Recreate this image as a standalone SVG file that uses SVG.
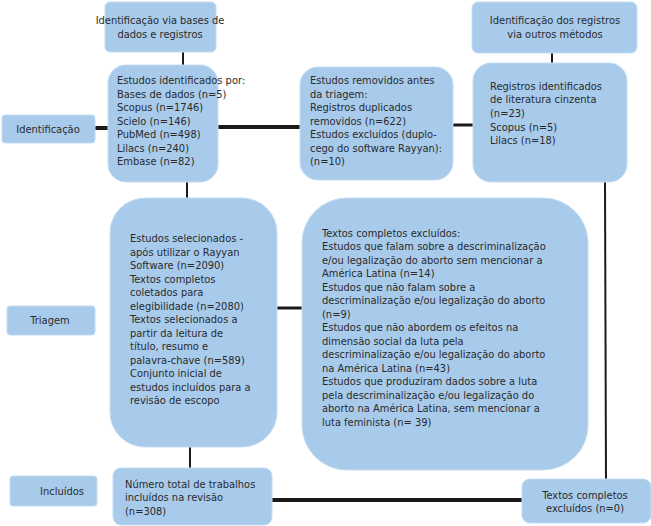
<svg xmlns="http://www.w3.org/2000/svg" width="651" height="526" viewBox="0 0 651 526">
<style>
.b{fill:#a8cbec;stroke:#c4dcf2;stroke-width:1}
.t{font-family:"Liberation Sans Narrow","DejaVu Sans Condensed","Liberation Sans",sans-serif;font-size:11px;fill:#2a2a2a}
.c{stroke:#1a1a1a;fill:none}
</style>
<rect width="651" height="526" fill="#fff"/>
<g id="connectors">
<line class="c" x1="183" y1="52" x2="183" y2="65" stroke-width="2"/>
<line class="c" x1="552" y1="53" x2="552" y2="63" stroke-width="2"/>
<line class="c" x1="95" y1="128" x2="108" y2="128" stroke-width="4"/>
<line class="c" x1="218" y1="127" x2="300" y2="127" stroke-width="4"/>
<line class="c" x1="453" y1="125" x2="473" y2="125" stroke-width="3"/>
<line class="c" x1="187" y1="182" x2="187" y2="198" stroke-width="2"/>
<line class="c" x1="605" y1="182" x2="606" y2="480" stroke-width="2"/>
<line class="c" x1="277" y1="308" x2="302" y2="308" stroke-width="3"/>
<line class="c" x1="190" y1="447" x2="190" y2="468" stroke-width="2"/>
<line class="c" x1="272" y1="500" x2="523" y2="500" stroke-width="4"/>
</g>
<g id="h1"><rect class="b" x="105" y="2" width="111" height="50" rx="5"/>
<text class="t" text-anchor="middle"><tspan x="160" y="24">Identificação via bases de</tspan><tspan x="160" y="38">dados e registros</tspan></text></g>
<g id="h2"><rect class="b" x="472" y="2" width="165" height="51" rx="6"/>
<text class="t" text-anchor="middle"><tspan x="555" y="24">Identificação dos registros</tspan><tspan x="555" y="38">via outros métodos</tspan></text></g>
<g id="l1"><rect class="b" x="2" y="115" width="93" height="28" rx="3"/>
<text class="t" x="48" y="133" text-anchor="middle">Identificação</text></g>
<g id="n1"><rect class="b" x="108" y="65" width="110" height="117" rx="18"/>
<text class="t"><tspan x="117" y="84">Estudos identificados por:</tspan><tspan x="117" y="98">Bases de dados (n=5)</tspan><tspan x="117" y="111">Scopus (n=1746)</tspan><tspan x="117" y="125">Scielo (n=146)</tspan><tspan x="117" y="138">PubMed (n=498)</tspan><tspan x="117" y="152">Lilacs (n=240)</tspan><tspan x="117" y="165">Embase (n=82)</tspan></text></g>
<g id="n2"><rect class="b" x="300" y="67" width="153" height="113" rx="18"/>
<text class="t"><tspan x="310" y="84">Estudos removidos antes</tspan><tspan x="310" y="98">da triagem:</tspan><tspan x="310" y="111">Registros duplicados</tspan><tspan x="310" y="125">removidos (n=622)</tspan><tspan x="310" y="138">Estudos excluídos (duplo-</tspan><tspan x="310" y="152">cego do software Rayyan):</tspan><tspan x="310" y="165">(n=10)</tspan></text></g>
<g id="n3"><rect class="b" x="473" y="63" width="154" height="119" rx="18"/>
<text class="t"><tspan x="490" y="90">Registros identificados</tspan><tspan x="490" y="103">de literatura cinzenta</tspan><tspan x="490" y="117">(n=23)</tspan><tspan x="490" y="131">Scopus (n=5)</tspan><tspan x="490" y="144">Lilacs (n=18)</tspan></text></g>
<g id="l2"><rect class="b" x="7" y="306" width="88" height="29" rx="3"/>
<text class="t" x="50" y="324" text-anchor="middle">Triagem</text></g>
<g id="n4"><rect class="b" x="110" y="198" width="167" height="249" rx="35"/>
<text class="t"><tspan x="130" y="242">Estudos selecionados -</tspan><tspan x="130" y="256">após utilizar o Rayyan</tspan><tspan x="130" y="269">Software (n=2090)</tspan><tspan x="130" y="283">Textos completos</tspan><tspan x="130" y="296">coletados para</tspan><tspan x="130" y="310">elegibilidade (n=2080)</tspan><tspan x="130" y="323">Textos selecionados a</tspan><tspan x="130" y="337">partir da leitura de</tspan><tspan x="130" y="350">título, resumo e</tspan><tspan x="130" y="364">palavra-chave (n=589)</tspan><tspan x="130" y="377">Conjunto inicial de</tspan><tspan x="130" y="391">estudos incluídos para a</tspan><tspan x="130" y="404">revisão de escopo</tspan></text></g>
<g id="n5"><rect class="b" x="302" y="198" width="286" height="272" rx="45"/>
<text class="t"><tspan x="322" y="237">Textos completos excluídos:</tspan><tspan x="322" y="250">Estudos que falam sobre a descriminalização</tspan><tspan x="322" y="264">e/ou legalização do aborto sem mencionar a</tspan><tspan x="322" y="277">América Latina (n=14)</tspan><tspan x="322" y="291">Estudos que não falam sobre a</tspan><tspan x="322" y="304">descriminalização e/ou legalização do aborto</tspan><tspan x="322" y="318">(n=9)</tspan><tspan x="322" y="331">Estudos que não abordem os efeitos na</tspan><tspan x="322" y="345">dimensão social da luta pela</tspan><tspan x="322" y="358">descriminalização e/ou legalização do aborto</tspan><tspan x="322" y="372">na América Latina (n=43)</tspan><tspan x="322" y="385">Estudos que produziram dados sobre a luta</tspan><tspan x="322" y="399">pela descriminalização e/ou legalização do</tspan><tspan x="322" y="412">aborto na América Latina, sem mencionar a</tspan><tspan x="322" y="426">luta feminista (n= 39)</tspan></text></g>
<g id="l3"><rect class="b" x="10" y="476" width="87" height="30" rx="3"/>
<text class="t" x="40" y="495">Incluídos</text></g>
<g id="n6"><rect class="b" x="113" y="468" width="159" height="57" rx="8"/>
<text class="t"><tspan x="125" y="488">Número total de trabalhos</tspan><tspan x="125" y="501">incluídos na revisão</tspan><tspan x="125" y="515">(n=308)</tspan></text></g>
<g id="n7"><rect class="b" x="522" y="479" width="129" height="44" rx="8"/>
<text class="t" text-anchor="middle"><tspan x="585" y="499">Textos completos</tspan><tspan x="585" y="512">excluídos (n=0)</tspan></text></g>
</svg>
